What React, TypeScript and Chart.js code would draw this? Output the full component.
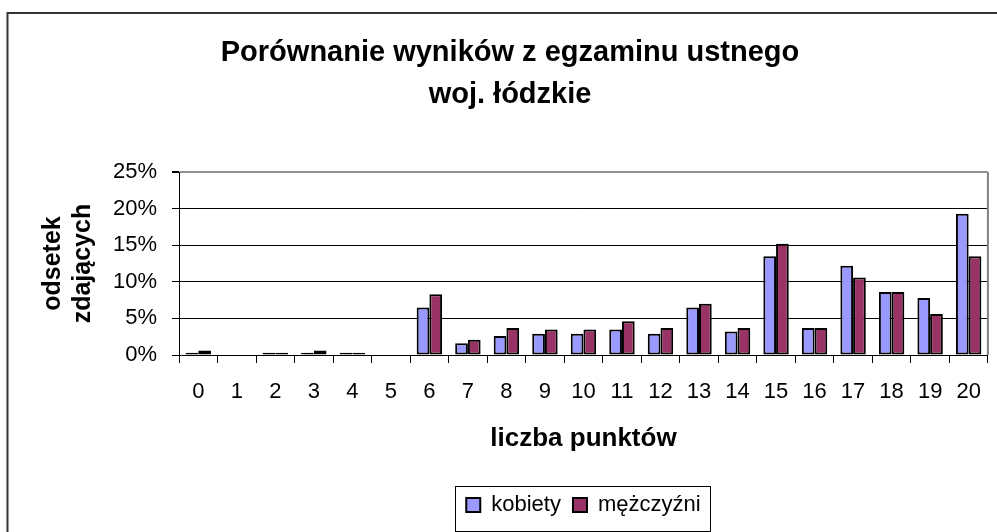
import React, { useEffect, useRef } from 'react';
import { Chart, registerables } from 'chart.js';

Chart.register(...registerables);

const categories = ['0', '1', '2', '3', '4', '5', '6', '7', '8', '9', '10', '11', '12', '13', '14', '15', '16', '17', '18', '19', '20'];
const kobiety = [0.3, 0, 0.3, 0.3, 0.3, 0, 6.5, 1.6, 2.6, 2.9, 2.9, 3.5, 2.9, 6.5, 3.2, 13.5, 3.7, 12.2, 8.6, 7.8, 19.3];
const mezczyzni = [0.6, 0, 0.3, 0.6, 0.3, 0, 8.3, 2.1, 3.7, 3.5, 3.5, 4.6, 3.7, 7.0, 3.7, 15.2, 3.7, 10.6, 8.6, 5.6, 13.5];
const seriesNames = ['kobiety', 'mężczyźni'];
const titleLines = ['Porównanie wyników z egzaminu ustnego', 'woj. łódzkie'];
const yTitleLines = ['odsetek', 'zdających'];
const xTitle = 'liczba punktów';

const FONT = '"Liberation Sans", Arial, sans-serif';

const framePlugin = {
  id: 'frame',
  beforeDraw(chart: any) {
    const ctx = chart.ctx;
    ctx.save();
    ctx.fillStyle = '#fff';
    ctx.fillRect(0, 0, chart.width, chart.height);
    ctx.strokeStyle = '#333';
    ctx.lineWidth = 2;
    ctx.beginPath();
    ctx.moveTo(7.5, chart.height + 2);
    ctx.lineTo(7.5, 13);
    ctx.lineTo(chart.width + 2, 13);
    ctx.stroke();
    ctx.restore();
  },
  afterDraw(chart: any) {
    const ctx = chart.ctx;
    const a = chart.chartArea;
    ctx.save();
    ctx.strokeStyle = '#808080';
    ctx.lineWidth = 2;
    ctx.beginPath();
    ctx.moveTo(a.right, a.top);
    ctx.lineTo(a.right, a.bottom);
    ctx.stroke();
    const lg = chart.legend;
    if (lg && lg.legendHitBoxes && lg.legendHitBoxes.length) {
      const hb = lg.legendHitBoxes;
      const first = hb[0];
      const last = hb[hb.length - 1];
      const l = first.left - 11;
      const r = last.left + last.width + 10;
      const t = lg.top + 4;
      const b = chart.height - 1;
      ctx.strokeStyle = '#000';
      ctx.lineWidth = 1;
      ctx.strokeRect(Math.round(l) + 0.5, Math.round(t) + 0.5, Math.round(r - l), Math.round(b - t));
    }
    ctx.restore();
  },
};

export default function App() {
  const ref = useRef<HTMLCanvasElement>(null);
  useEffect(() => {
    const chart = new Chart(ref.current as HTMLCanvasElement, {
      type: 'bar',
      data: {
        labels: categories,
        datasets: [
          {
            label: seriesNames[0],
            data: kobiety,
            backgroundColor: '#9999FF',
            borderColor: '#000',
            borderWidth: 2,
            borderSkipped: false,
            categoryPercentage: 0.66,
            barPercentage: 1.0,
          },
          {
            label: seriesNames[1],
            data: mezczyzni,
            backgroundColor: '#993366',
            borderColor: '#000',
            borderWidth: 2,
            borderSkipped: false,
            categoryPercentage: 0.66,
            barPercentage: 1.0,
          },
        ],
      },
      options: {
        responsive: false,
        animation: false,
        devicePixelRatio: 1,
        layout: { padding: { left: 28, right: 5, top: 0, bottom: 6 } },
        plugins: {
          tooltip: { enabled: false },
          title: {
            display: true,
            text: titleLines,
            color: '#000',
            font: { family: FONT, size: 29, weight: 'bold', lineHeight: 1.45 },
            padding: { top: 32, bottom: 56 },
          },
          legend: {
            display: true,
            position: 'bottom',
            fullSize: false,
            labels: {
              color: '#000',
              font: { family: FONT, size: 22 },
              boxWidth: 14,
              boxHeight: 14,
              padding: 12,
            },
          },
        },
        scales: {
          x: {
            grid: {
              offset: true,
              drawOnChartArea: false,
              drawTicks: true,
              tickLength: 8,
              color: '#000',
            },
            border: { color: '#000', width: 1 },
            ticks: {
              color: '#000',
              font: { family: FONT, size: 22 },
              padding: 16,
              maxRotation: 0,
              autoSkip: false,
            },
            title: {
              display: true,
              text: xTitle,
              color: '#000',
              font: { family: FONT, size: 26, weight: 'bold', lineHeight: 1.2 },
              padding: { top: 0, bottom: 28 },
            },
            afterFit(scale: any) {
              scale.height = 127;
            },
          },
          y: {
            min: 0,
            max: 25,
            grid: {
              color: (c: any) => (c.tick && c.tick.value === 25 ? '#909090' : '#000'),
              lineWidth: (c: any) => (c.tick && c.tick.value === 25 ? 2 : 1),
              tickColor: '#000',
              tickLength: 7,
              drawTicks: true,
            },
            border: { color: '#000', width: 1 },
            ticks: {
              stepSize: 5,
              color: '#000',
              font: { family: FONT, size: 22 },
              padding: 15,
              callback: (v: any) => v + '%',
            },
            title: {
              display: true,
              text: yTitleLines,
              color: '#000',
              font: { family: FONT, size: 25, weight: 'bold', lineHeight: 1.2 },
              padding: { top: 10, bottom: 0 },
            },
            afterFit(scale: any) {
              scale.width = 151;
            },
          },
        },
      },
      plugins: [framePlugin],
    } as any);
    return () => chart.destroy();
  }, []);
  return (
    <div style={{ position: 'fixed', left: 0, top: 0, width: 997, height: 532, background: '#fff' }}>
      <canvas ref={ref} width={997} height={532} style={{ display: 'block' }} />
    </div>
  );
}
